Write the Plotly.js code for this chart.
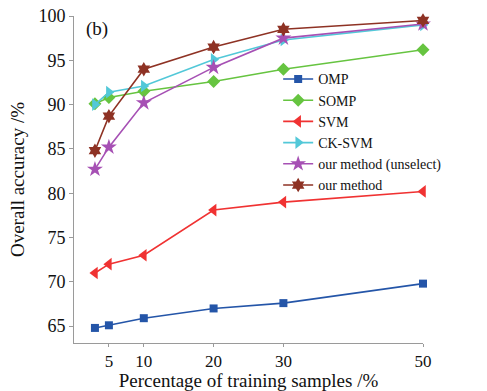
<!DOCTYPE html>
<html><head><meta charset="utf-8">
<script src="https://cdn.plot.ly/plotly-3.0.1.min.js"></script>
<style>html,body{margin:0;padding:0;background:#fff}#chart{width:487px;height:391px}</style>
</head><body><div id="chart"></div>
<script>
const samples = [3, 5, 10, 20, 30, 50];
const omp = [64.8, 65.1, 65.9, 67.0, 67.6, 69.8];
const somp = [90.1, 90.8, 91.5, 92.6, 94.0, 96.2];
const svm = [71.0, 72.0, 73.0, 78.1, 79.0, 80.2];
const cksvm = [90.0, 91.4, 92.1, 95.1, 97.3, 99.0];
const unselect = [82.7, 85.2, 90.2, 94.2, 97.5, 99.1];
const ours = [84.8, 88.7, 94.0, 96.5, 98.5, 99.5];
const xTicks = [5, 10, 20, 30, 50];
const yTicks = [65, 70, 75, 80, 85, 90, 95, 100];

const series = [
  {name: 'OMP', y: omp, color: '#2455a8', symbol: 'square', size: 8},
  {name: 'SOMP', y: somp, color: '#66c440', symbol: 'diamond', size: 10},
  {name: 'SVM', y: svm, color: '#f03232', symbol: 'triangle-left', size: 11},
  {name: 'CK-SVM', y: cksvm, color: '#52c8d8', symbol: 'triangle-right', size: 11},
  {name: 'our method (unselect)', y: unselect, color: '#a650b4', symbol: 'star', size: 12},
  {name: 'our method', y: ours, color: '#8e3224', symbol: 'hexagram', size: 11}
];
const traces = series.map(s => ({
  x: samples, y: s.y, name: s.name, type: 'scatter', mode: 'lines+markers',
  line: {color: s.color, width: 1.6},
  marker: {color: s.color, symbol: s.symbol, size: s.size, line: {width: 0}},
  cliponaxis: false
}));
const font = '"Liberation Serif", serif';
const layout = {
  width: 487, height: 391,
  margin: {l: 74, r: 64, t: 16, b: 48},
  paper_bgcolor: '#fff', plot_bgcolor: '#fff',
  font: {family: font, color: '#111', size: 18},
  showlegend: true,
  legend: {x: 0.585, y: 0.855, xanchor: 'left', yanchor: 'top',
    bgcolor: 'rgba(0,0,0,0)', borderwidth: 0,
    font: {family: font, size: 14, color: '#111'}, tracegroupgap: 0},
  xaxis: {range: [0, 50], tickvals: xTicks, ticktext: xTicks.map(String),
    showgrid: false, zeroline: false, showline: true, linecolor: '#9a9a9a', linewidth: 1,
    ticks: 'outside', ticklen: 3, tickcolor: '#9a9a9a',
    tickfont: {family: font, size: 17},
    title: {text: 'Percentage of training samples /%', font: {family: font, size: 19}, standoff: 7}},
  yaxis: {range: [63.1, 100], tickvals: yTicks, ticktext: yTicks.map(String),
    showgrid: false, zeroline: false, showline: true, linecolor: '#9a9a9a', linewidth: 1,
    ticks: 'outside', ticklen: 4, tickcolor: '#9a9a9a',
    tickfont: {family: font, size: 18},
    title: {text: 'Overall accuracy /%', font: {family: font, size: 19}, standoff: 8}},
  annotations: [{text: '(b)', xref: 'paper', yref: 'paper', x: 0.03, y: 1.0,
    xanchor: 'left', yanchor: 'top', showarrow: false, font: {family: font, size: 19}}]
};
Plotly.newPlot('chart', traces, layout, {displayModeBar: false, staticPlot: true});
</script></body></html>
